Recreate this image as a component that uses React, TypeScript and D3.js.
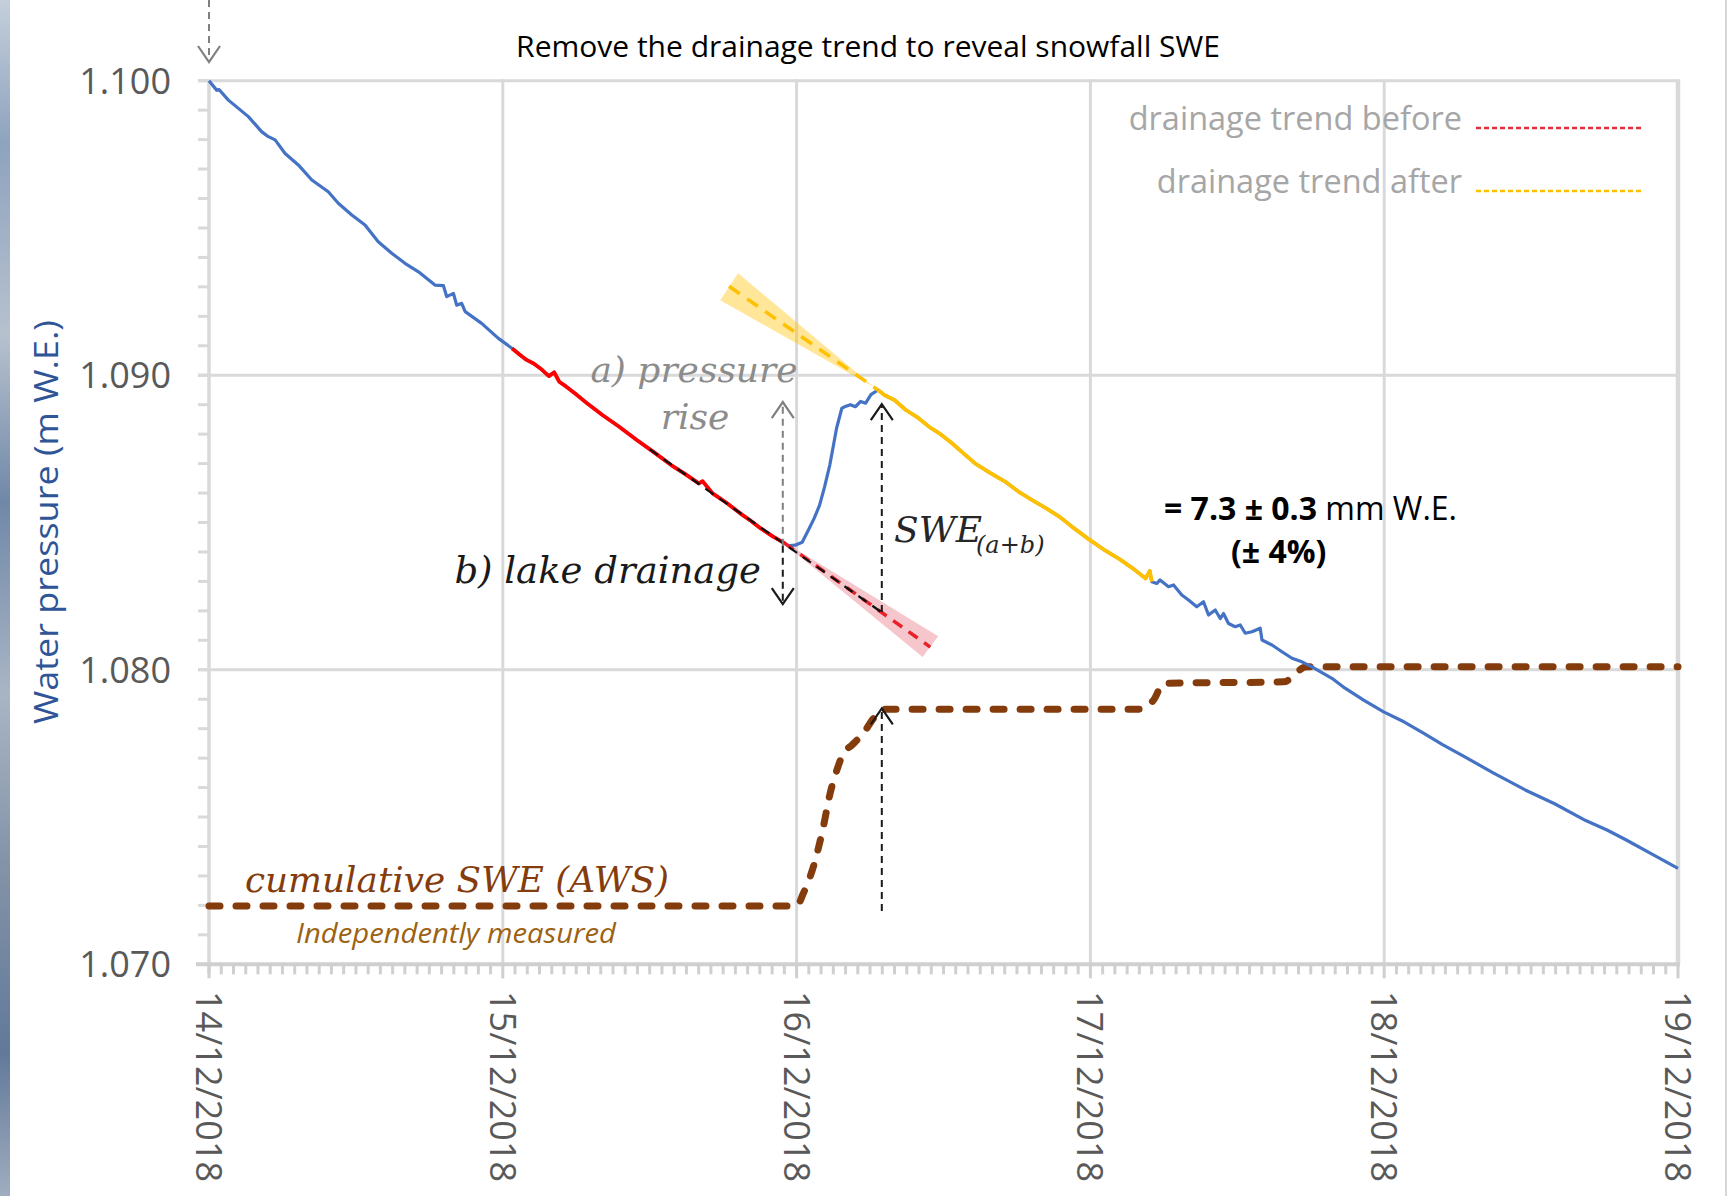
import * as d3 from "d3";
import { useEffect, useRef } from "react";

// [days since 14/12/2018 00:00, water pressure (m W.E.)]
type Pt = [number, number];

const dateLabels = ["14/12/2018", "15/12/2018", "16/12/2018", "17/12/2018", "18/12/2018", "19/12/2018"];
const pressureTicks = [1.07, 1.08, 1.09, 1.1];

const pressureBefore: Pt[] = [
  [0, 1.1], [0.026, 1.09968], [0.034, 1.0997], [0.066, 1.09934], [0.1, 1.09906], [0.134, 1.09878],
  [0.179, 1.09827], [0.202, 1.0981], [0.225, 1.09799], [0.259, 1.09753], [0.304, 1.09714], [0.35, 1.09663],
  [0.406, 1.09623], [0.44, 1.09584], [0.486, 1.09544], [0.531, 1.0951], [0.576, 1.09453], [0.622, 1.09414],
  [0.667, 1.0938], [0.713, 1.09351], [0.769, 1.09306], [0.798, 1.09304], [0.809, 1.09267], [0.832, 1.09278],
  [0.843, 1.09238], [0.86, 1.09244], [0.872, 1.09216], [0.928, 1.09176], [0.985, 1.09125], [1.032, 1.09091],
];

const drainageFit: Pt[] = [
  [1.032, 1.09091], [1.06, 1.09068], [1.081, 1.09052], [1.105, 1.0904], [1.128, 1.09023], [1.157, 1.08997],
  [1.175, 1.0901], [1.192, 1.08978], [1.215, 1.08962], [1.245, 1.08939], [1.29, 1.08902], [1.339, 1.08865],
  [1.395, 1.08826], [1.456, 1.0878], [1.515, 1.08738], [1.573, 1.08695], [1.62, 1.08665], [1.667, 1.08633],
  [1.68, 1.0864], [1.714, 1.08599], [1.76, 1.08568], [1.808, 1.08531], [1.845, 1.08505], [1.878, 1.0848],
  [1.92, 1.08452], [1.96, 1.08429],
];

const pressureRise: Pt[] = [
  [1.96, 1.08429], [1.972, 1.08421], [1.995, 1.08423], [2.019, 1.08433], [2.042, 1.08478], [2.06, 1.08515],
  [2.078, 1.08558], [2.095, 1.0862], [2.113, 1.08695], [2.125, 1.0876], [2.136, 1.0882], [2.154, 1.08888],
  [2.168, 1.08895], [2.183, 1.089], [2.2, 1.08893], [2.218, 1.08911], [2.235, 1.08905], [2.253, 1.08934],
  [2.277, 1.0895],
];

const snowFit: Pt[] = [
  [2.277, 1.0895], [2.3, 1.08932], [2.333, 1.08916], [2.372, 1.08882], [2.41, 1.08858], [2.451, 1.08825],
  [2.49, 1.088], [2.529, 1.08769], [2.57, 1.08733], [2.607, 1.08701], [2.66, 1.08668], [2.711, 1.08638],
  [2.755, 1.08605], [2.802, 1.08576], [2.85, 1.08548], [2.894, 1.0852], [2.945, 1.0848], [2.999, 1.0844],
  [3.05, 1.08405], [3.103, 1.08373], [3.15, 1.0834], [3.188, 1.0831], [3.202, 1.08336], [3.209, 1.08299],
];

const pressureAfter: Pt[] = [
  [3.209, 1.08299], [3.226, 1.08293], [3.237, 1.08305], [3.266, 1.08282], [3.283, 1.08288], [3.311, 1.08254],
  [3.334, 1.08237], [3.362, 1.08214], [3.385, 1.08231], [3.402, 1.08186], [3.425, 1.08203], [3.442, 1.08174],
  [3.453, 1.08191], [3.47, 1.08157], [3.493, 1.08146], [3.51, 1.08152], [3.527, 1.08124], [3.55, 1.08129],
  [3.578, 1.08141], [3.584, 1.08101], [3.618, 1.08084], [3.652, 1.08061], [3.686, 1.08039], [3.72, 1.08027],
  [3.754, 1.0801], [3.822, 1.07971], [3.86, 1.07942], [3.93, 1.07897], [3.998, 1.07857], [4.06, 1.07827],
  [4.135, 1.07784], [4.2, 1.07745], [4.273, 1.07705], [4.371, 1.0765], [4.48, 1.07592], [4.58, 1.07545],
  [4.686, 1.07488], [4.76, 1.07455], [4.824, 1.07422], [4.91, 1.07375], [5, 1.07326],
];

const cumulativeSwe: Pt[] = [
  [0, 1.07198], [2.0, 1.07198], [2.023, 1.07241], [2.057, 1.07331], [2.091, 1.07467], [2.114, 1.0758],
  [2.137, 1.07659], [2.159, 1.07716], [2.188, 1.07744], [2.227, 1.07784], [2.262, 1.07835], [2.296, 1.07866],
  [3.164, 1.07866], [3.215, 1.07897], [3.249, 1.07954], [3.657, 1.07959], [3.736, 1.0801], [5, 1.0801],
];

const trendBeforeLine: Pt[] = [[1.96, 1.08429], [2.455, 1.08077]];
const trendBeforeBlack: Pt[] = [[1.5, 1.08748], [2.288, 1.08196]];
const trendBeforeBand: Pt[] = [[1.93, 1.08451], [2.482, 1.08114], [2.429, 1.08043]];
const trendAfterLine: Pt[] = [[1.77, 1.09302], [2.277, 1.0895]];
const trendAfterBand: Pt[] = [[2.265, 1.08958], [1.801, 1.09346], [1.74, 1.09255]];

// vertical annotation arrows: day, start value, tip value
const arrows = [
  { day: 1.953, from: 1.08421, to: 1.08909, color: "#808080" },
  { day: 1.953, from: 1.08421, to: 1.08223, color: "#1a1a1a" },
  { day: 2.29, from: 1.08196, to: 1.08902, color: "#1a1a1a" },
  { day: 2.29, from: 1.07181, to: 1.07869, color: "#1a1a1a" },
];

const WIDTH = 1734;
const HEIGHT = 1196;
const SANS = "'Open Sans', 'Noto Sans', sans-serif";
const SERIF = "'DejaVu Serif', 'Liberation Serif', serif";

export default function App() {
  const ref = useRef<SVGSVGElement>(null);

  useEffect(() => {
    if (!ref.current) return;
    const svg = d3.select(ref.current);
    svg.selectAll("*").remove();

    const x = d3.scaleLinear().domain([0, 5]).range([209, 1678]);
    const y = d3.scaleLinear().domain([1.07, 1.1]).range([964.3, 80.7]);
    const gridColor = "#d9d9d9";
    const labelColor = "#595959";

    svg.append("rect").attr("width", WIDTH).attr("height", HEIGHT).attr("fill", "#fff");

    // scrap of photo on the left edge
    const grad = svg
      .append("defs")
      .append("linearGradient")
      .attr("id", "edge")
      .attr("x1", 0)
      .attr("x2", 0)
      .attr("y1", 0)
      .attr("y2", 1);
    [
      ["0", "#c4cfdb"], ["0.12", "#8ea3bf"], ["0.28", "#b6c1ce"], ["0.42", "#7088a8"],
      ["0.58", "#a8b5c5"], ["0.72", "#8494a8"], ["0.88", "#62799a"], ["1", "#9fadbf"],
    ].forEach(([o, c]) => grad.append("stop").attr("offset", o).attr("stop-color", c));
    svg.append("rect").attr("x", 0).attr("y", 0).attr("width", 10).attr("height", HEIGHT).attr("fill", "url(#edge)");
    svg.append("line").attr("x1", 1726).attr("x2", 1726).attr("y1", 0).attr("y2", HEIGHT)
      .attr("stroke", "#d6d6d6").attr("stroke-width", 2);

    // grid
    const g = svg.append("g");
    g.selectAll(".hgrid")
      .data(pressureTicks.slice(1))
      .join("line")
      .attr("x1", 198)
      .attr("x2", x(5))
      .attr("y1", (d) => y(d))
      .attr("y2", (d) => y(d))
      .attr("stroke", gridColor)
      .attr("stroke-width", 3);
    g.selectAll(".vgrid")
      .data(d3.range(1, 6))
      .join("line")
      .attr("x1", (d) => x(d))
      .attr("x2", (d) => x(d))
      .attr("y1", y(1.1) - 1.5)
      .attr("y2", y(1.07))
      .attr("stroke", gridColor)
      .attr("stroke-width", (d) => (d === 5 ? 4.5 : 3));

    // y axis with minor ticks
    g.append("line").attr("x1", x(0)).attr("x2", x(0)).attr("y1", y(1.1)).attr("y2", y(1.07) + 10)
      .attr("stroke", gridColor).attr("stroke-width", 3.5);
    g.selectAll(".ytick")
      .data(d3.range(0, 31))
      .join("line")
      .attr("x1", 198)
      .attr("x2", x(0))
      .attr("y1", (i) => y(1.07 + i / 1000))
      .attr("y2", (i) => y(1.07 + i / 1000))
      .attr("stroke", gridColor)
      .attr("stroke-width", 3);

    // x axis with hourly ticks
    g.append("line").attr("x1", 196).attr("x2", x(5) + 2).attr("y1", y(1.07)).attr("y2", y(1.07))
      .attr("stroke", "#d0d0d0").attr("stroke-width", 4);
    g.selectAll(".xtick")
      .data(d3.range(0, 121))
      .join("line")
      .attr("x1", (i) => x(i / 24))
      .attr("x2", (i) => x(i / 24))
      .attr("y1", y(1.07))
      .attr("y2", (i) => y(1.07) + (i % 24 === 0 ? 14 : 10))
      .attr("stroke", "#cfcfcf")
      .attr("stroke-width", 3);

    g.selectAll(".ylabel")
      .data(pressureTicks)
      .join("text")
      .attr("x", 171)
      .attr("y", (d) => y(d) + 13)
      .attr("text-anchor", "end")
      .style("font-family", SANS)
      .style("font-size", "36px")
      .style("fill", labelColor)
      .text((d) => d3.format(".3f")(d));

    g.selectAll(".xlabel")
      .data(dateLabels)
      .join("text")
      .attr("transform", (_d, i) => `translate(${x(i)},991) rotate(90)`)
      .attr("dy", "0.36em")
      .style("font-family", SANS)
      .style("font-size", "36px")
      .style("fill", labelColor)
      .text((d) => d);

    svg.append("text")
      .attr("transform", "translate(46,522) rotate(-90)")
      .attr("text-anchor", "middle")
      .attr("dy", "0.35em")
      .attr("textLength", 404)
      .attr("lengthAdjust", "spacingAndGlyphs")
      .style("font-family", SANS)
      .style("font-size", "33px")
      .style("fill", "#2f5597")
      .text("Water pressure (m W.E.)");

    svg.append("text")
      .attr("x", 868)
      .attr("y", 57)
      .attr("text-anchor", "middle")
      .style("font-family", SANS)
      .style("font-size", "30px")
      .style("fill", "#000")
      .text("Remove the drainage trend to reveal snowfall SWE");

    const line = d3.line<Pt>().x((d) => x(d[0])).y((d) => y(d[1]));
    const area = d3.line<Pt>().x((d) => x(d[0])).y((d) => y(d[1])).curve(d3.curveLinearClosed);

    // uncertainty wedges
    svg.append("path").attr("d", area(trendBeforeBand)).attr("fill", "#e46c78").attr("opacity", 0.38);
    svg.append("path").attr("d", area(trendAfterBand)).attr("fill", "#ffc000").attr("opacity", 0.4);

    // AWS cumulative snowfall
    svg.append("path")
      .attr("d", line.curve(d3.curveMonotoneX)(cumulativeSwe))
      .attr("fill", "none")
      .attr("stroke", "#843c0c")
      .attr("stroke-width", 7)
      .attr("stroke-dasharray", "11 16")
      .attr("stroke-linecap", "round");
    line.curve(d3.curveLinear);

    // water pressure record
    const full = [...pressureBefore, ...drainageFit.slice(1), ...pressureRise.slice(1), ...snowFit.slice(1), ...pressureAfter.slice(1)];
    svg.append("path").attr("d", line(full)).attr("fill", "none").attr("stroke", "#4472c4")
      .attr("stroke-width", 3.2).attr("stroke-linejoin", "round");
    svg.append("path").attr("d", line(drainageFit)).attr("fill", "none").attr("stroke", "#ff0000")
      .attr("stroke-width", 3.8).attr("stroke-linejoin", "round");
    svg.append("path").attr("d", line(snowFit)).attr("fill", "none").attr("stroke", "#ffc000")
      .attr("stroke-width", 3.8).attr("stroke-linejoin", "round");

    // trend lines
    svg.append("path").attr("d", line(trendBeforeLine)).attr("stroke", "#e8202a").attr("stroke-width", 3.5)
      .attr("stroke-dasharray", "11 8").attr("fill", "none");
    svg.append("path").attr("d", line(trendAfterLine)).attr("stroke", "#ffc000").attr("stroke-width", 3.5)
      .attr("stroke-dasharray", "13 9").attr("fill", "none");
    svg.append("path").attr("d", line(trendBeforeBlack)).attr("stroke", "#111").attr("stroke-width", 2.2)
      .attr("stroke-dasharray", "10 7").attr("fill", "none");

    // arrows
    const drawArrow = (ax: number, y0: number, y1: number, color: string) => {
      const dir = y1 < y0 ? 1 : -1;
      svg.append("line").attr("x1", ax).attr("x2", ax).attr("y1", y0).attr("y2", y1)
        .attr("stroke", color).attr("stroke-width", 2).attr("stroke-dasharray", "7 5");
      svg.append("path")
        .attr("d", `M${ax - 11},${y1 + dir * 16} L${ax},${y1} L${ax + 11},${y1 + dir * 16}`)
        .attr("fill", "none").attr("stroke", color).attr("stroke-width", 2.2);
    };
    arrows.forEach((a) => drawArrow(x(a.day), y(a.from), y(a.to), a.color));
    drawArrow(x(0), 0, 62, "#808080");

    // legend
    const legend = [
      { label: "drainage trend before", color: "#e0303a", y: 130 },
      { label: "drainage trend after", color: "#ffc000", y: 193 },
    ];
    legend.forEach((l) => {
      svg.append("text").attr("x", 1462).attr("y", l.y).attr("text-anchor", "end")
        .style("font-family", SANS).style("font-size", "32.5px").style("fill", "#a6a6a6").text(l.label);
      svg.append("line").attr("x1", 1476).attr("x2", 1643).attr("y1", l.y - 2).attr("y2", l.y - 2)
        .attr("stroke", l.color).attr("stroke-width", 2.5).attr("stroke-dasharray", "5 3");
    });

    // annotations
    const serifText = (tx: number, ty: number, s: string, size: number, color: string, anchor = "start") =>
      svg.append("text").attr("x", tx).attr("y", ty).attr("text-anchor", anchor)
        .style("font-family", SERIF).style("font-style", "italic").style("font-size", `${size}px`)
        .style("fill", color).text(s);

    serifText(694, 382, "a) pressure", 36, "#8c8c8c", "middle");
    serifText(695, 429, "rise", 36, "#8c8c8c", "middle");
    serifText(761, 583, "b) lake drainage", 37, "#1a1a1a", "end");
    serifText(894, 542, "SWE", 36, "#262626");
    serifText(976, 553, "(a+b)", 24, "#262626");
    serifText(245, 892, "cumulative SWE (AWS)", 36, "#843c0c")
      .attr("textLength", 424).attr("lengthAdjust", "spacingAndGlyphs");

    svg.append("text").attr("x", 296).attr("y", 943)
      .attr("textLength", 320).attr("lengthAdjust", "spacingAndGlyphs")
      .style("font-family", SANS).style("font-style", "italic").style("font-size", "28px")
      .style("fill", "#9c6212").text("Independently measured");

    const res = svg.append("text").attr("x", 1164).attr("y", 520)
      .style("font-family", SANS).style("font-size", "32px").style("fill", "#000");
    res.append("tspan").style("font-weight", 700).text("= 7.3 ± 0.3");
    res.append("tspan").text(" mm W.E.");
    svg.append("text").attr("x", 1231).attr("y", 563)
      .style("font-family", SANS).style("font-size", "32px").style("font-weight", 700)
      .style("fill", "#000").text("(± 4%)");
  }, []);

  return (
    <svg
      ref={ref}
      width={WIDTH}
      height={HEIGHT}
      style={{ position: "absolute", left: 0, top: 0, display: "block" }}
    />
  );
}
